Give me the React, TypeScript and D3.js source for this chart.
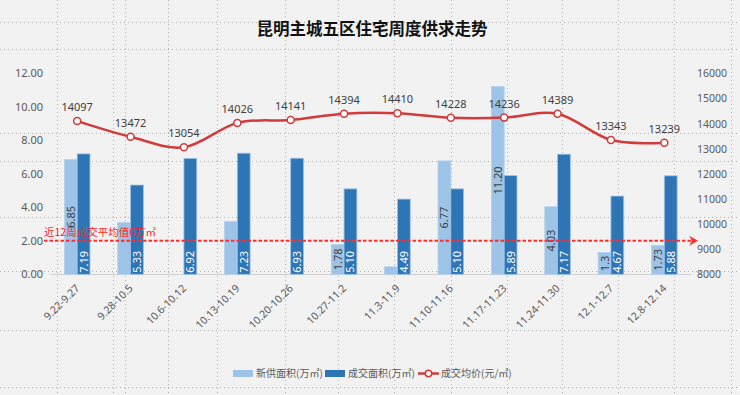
import React from "react";
import * as d3 from "d3";

const categories = [
  "9.22-9.27", "9.28-10.5", "10.6-10.12", "10.13-10.19", "10.20-10.26", "10.27-11.2",
  "11.3-11.9", "11.10-11.16", "11.17-11.23", "11.24-11.30", "12.1-12.7", "12.8-12.14",
];
const newSupply = [6.85, 3.1, 0, 3.15, 0, 1.78, 0.45, 6.77, 11.2, 4.03, 1.3, 1.73];
const supplyLabels = ["6.85", "", "", "", "", "1.78", "", "6.77", "11.20", "4.03", "1.3", "1.73"];
const dealArea = [7.19, 5.33, 6.92, 7.23, 6.93, 5.1, 4.49, 5.1, 5.89, 7.17, 4.67, 5.88];
const avgPrice = [14097, 13472, 13054, 14026, 14141, 14394, 14410, 14228, 14236, 14389, 13343, 13239];
const leftTicks = [0, 2, 4, 6, 8, 10, 12];
const rightTicks = [8000, 9000, 10000, 11000, 12000, 13000, 14000, 15000, 16000];
const avgLineLevel = 2;
const avgLineText = "近12周成交平均值6万㎡";
const title = "昆明主城五区住宅周度供求走势";
const legendNames = ["新供面积(万㎡)", "成交面积(万㎡)", "成交均价(元/㎡)"];

const sheetCols = [57, 113, 125, 168, 217, 285, 338, 394, 451, 507, 562, 618, 674, 731];
const sheetRows = [22, 49, 133, 161, 217, 271, 330, 387];

const W = 740, H = 395;
const FONT = "'Noto Sans', 'Noto Sans CJK SC', sans-serif";
const CJK = "'Noto Sans CJK SC', sans-serif";
const LIGHT = "#9dc3e6", DARK = "#2e75b6", RED = "#d13b3b", AVG = "#ff2d2d";
const AXIS_TXT = "#595959", LBL = "#404040";

export default function App() {
  const x = d3.scaleBand<string>().domain(categories).range([50.5, 691]).padding(0);
  const yL = d3.scaleLinear().domain([0, 12]).range([274.3, 73.3]);
  const yR = d3.scaleLinear().domain([8000, 16000]).range([274.3, 73.3]);
  const groupW = 25.6;
  const sub = d3.scaleBand<string>().domain(["s", "d"]).range([0, groupW]).padding(0);
  const cx = (c: string) => (x(c) as number) + x.bandwidth() / 2;
  const gx = (c: string) => cx(c) - groupW / 2;

  const line = d3
    .line<number>()
    .x((_, i) => cx(categories[i]))
    .y((v) => yR(v))
    .curve(d3.curveCardinal.tension(0));

  const avgY = yL(avgLineLevel);

  return (
    <svg
      width={W}
      height={H}
      style={{ position: "fixed", left: 0, top: 0, background: "#f2f2f2" }}
      fontFamily={FONT}
    >
      <rect x={0} y={0} width={W} height={H} fill="#f2f2f2" />
      {sheetCols.map((v) => (
        <line key={"c" + v} x1={v + 0.5} x2={v + 0.5} y1={0} y2={H} stroke="#b0b0b0" strokeDasharray="1,3" />
      ))}
      {sheetRows.map((v) => (
        <line key={"r" + v} y1={v + 0.5} y2={v + 0.5} x1={0} x2={W} stroke="#b0b0b0" strokeDasharray="1,3" />
      ))}

      <text x={372} y={35} textAnchor="middle" fontSize={16.5} fontWeight="bold" fill="#111" fontFamily={CJK}>
        {title}
      </text>

      {leftTicks.map((t) => (
        <text key={"l" + t} x={43} y={yL(t) + 4} textAnchor="end" fontSize={11} fill={AXIS_TXT}>
          {d3.format(".2f")(t)}
        </text>
      ))}
      {rightTicks.map((t) => (
        <text key={"rt" + t} x={697} y={yR(t) + 4} textAnchor="start" fontSize={10.5} fill={AXIS_TXT}>
          {t}
        </text>
      ))}

      <line x1={50.5} x2={691} y1={274.5} y2={274.5} stroke="#d0d0d0" strokeWidth={1} />

      {categories.map((c, i) => (
        <g key={"b" + c}>
          {newSupply[i] > 0 && (
            <rect
              x={gx(c) + (sub("s") as number)}
              y={yL(newSupply[i])}
              width={sub.bandwidth()}
              height={yL(0) - yL(newSupply[i])}
              fill={LIGHT}
              stroke="#b4d2ee"
              strokeWidth={0.8}
            />
          )}
          <rect
            x={gx(c) + (sub("d") as number)}
            y={yL(dealArea[i])}
            width={sub.bandwidth()}
            height={yL(0) - yL(dealArea[i])}
            fill={DARK}
            stroke="#9dc3e6"
            strokeWidth={0.8}
          />
        </g>
      ))}

      {categories.map((c, i) =>
        supplyLabels[i] ? (
          <text
            key={"sl" + c}
            transform={`translate(${gx(c) + (sub("s") as number) + sub.bandwidth() / 2 + 4},${(yL(0) + yL(newSupply[i])) / 2}) rotate(-90)`}
            textAnchor="middle"
            fontSize={11}
            fill={LBL}
          >
            {supplyLabels[i]}
          </text>
        ) : null
      )}
      {categories.map((c, i) => (
        <text
          key={"dl" + c}
          transform={`translate(${gx(c) + (sub("d") as number) + sub.bandwidth() / 2 + 4},${yL(0) - 1.5}) rotate(-90)`}
          textAnchor="start"
          fontSize={11}
          fill="#ffffff"
        >
          {d3.format(".2f")(dealArea[i])}
        </text>
      ))}

      <line x1={44} x2={692} y1={avgY} y2={avgY} stroke={AVG} strokeWidth={2} strokeDasharray="3.5,2" />
      <path d={`M${689},${avgY - 5} L${698},${avgY} L${689},${avgY + 5} L${692},${avgY} Z`} fill={AVG} />
      <text x={44} y={avgY - 4.5} fontSize={10.5} fill="#ff1f1f" fontFamily={CJK}>
        {avgLineText}
      </text>

      <path d={line(avgPrice) || ""} fill="none" stroke={RED} strokeWidth={2.5} />
      {categories.map((c, i) => (
        <circle key={"p" + c} cx={cx(c)} cy={yR(avgPrice[i])} r={3.5} fill="#fff" stroke={RED} strokeWidth={1.5} />
      ))}
      {categories.map((c, i) => (
        <text key={"pl" + c} x={cx(c)} y={yR(avgPrice[i]) - 10} textAnchor="middle" fontSize={11} fill={LBL}>
          {avgPrice[i]}
        </text>
      ))}

      {categories.map((c) => (
        <text
          key={"x" + c}
          transform={`translate(${cx(c) + 3},${289}) rotate(-45)`}
          textAnchor="end"
          fontSize={10.5}
          fill={AXIS_TXT}
        >
          {c}
        </text>
      ))}

      <rect x={233} y={370} width={20} height={7} fill={LIGHT} />
      <text x={256} y={377} fontSize={10} fill={AXIS_TXT} fontFamily={CJK}>{legendNames[0]}</text>
      <rect x={325} y={370} width={20} height={7} fill={DARK} />
      <text x={348} y={377} fontSize={10} fill={AXIS_TXT} fontFamily={CJK}>{legendNames[1]}</text>
      <line x1={418} x2={439} y1={373.5} y2={373.5} stroke={RED} strokeWidth={2.5} />
      <circle cx={428.5} cy={373.5} r={3.2} fill="#fff" stroke={RED} strokeWidth={1.5} />
      <text x={441} y={377} fontSize={10} fill={AXIS_TXT} fontFamily={CJK}>{legendNames[2]}</text>
    </svg>
  );
}
